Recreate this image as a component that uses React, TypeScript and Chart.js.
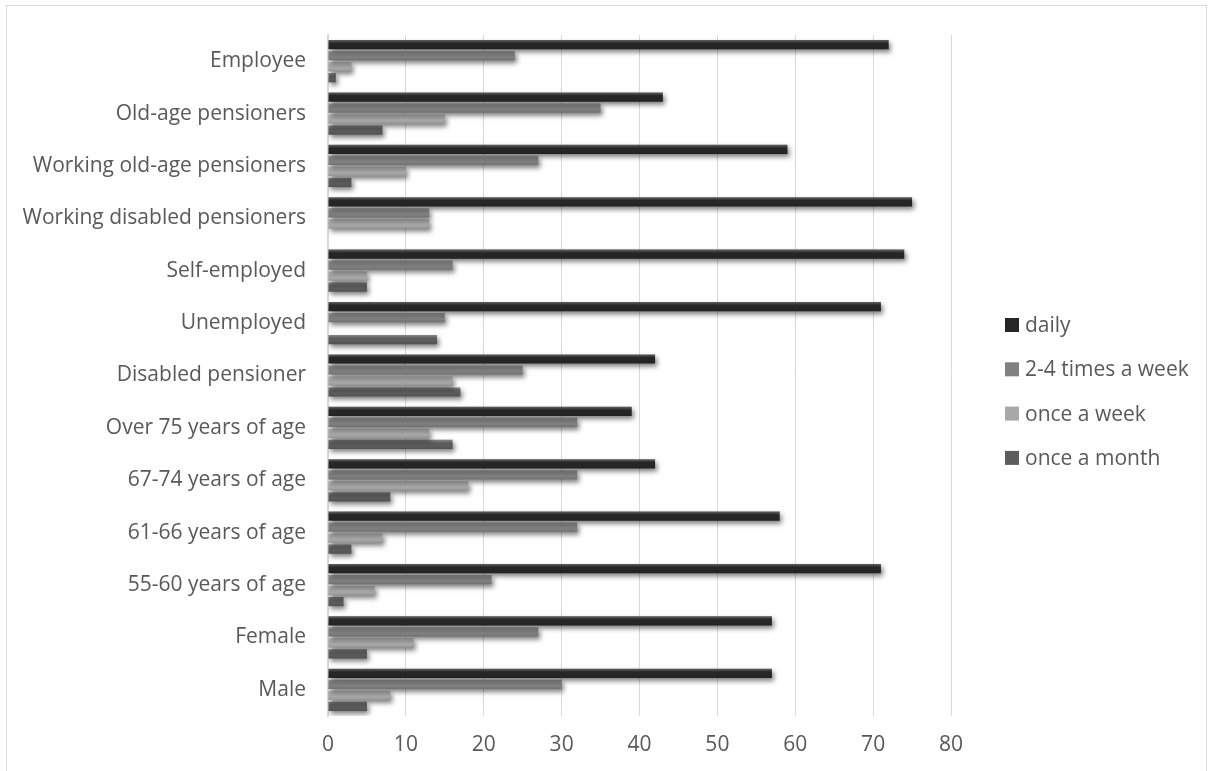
import React, { useEffect, useRef } from "react";
import { Chart, registerables } from "chart.js";

Chart.register(...registerables);

const categories = [
  "Employee",
  "Old-age pensioners",
  "Working old-age pensioners",
  "Working disabled pensioners",
  "Self-employed",
  "Unemployed",
  "Disabled pensioner",
  "Over 75 years of age",
  "67-74 years of age",
  "61-66 years of age",
  "55-60 years of age",
  "Female",
  "Male",
];

const seriesNames = ["daily", "2-4 times a week", "once a week", "once a month"];

const daily = [72, 43, 59, 75, 74, 71, 42, 39, 42, 58, 71, 57, 57];
const twoToFourWeek = [24, 35, 27, 13, 16, 15, 25, 32, 32, 32, 21, 27, 30];
const onceWeek = [3, 15, 10, 13, 5, 0, 16, 13, 18, 7, 6, 11, 8];
const onceMonth = [1, 7, 3, 0, 5, 14, 17, 16, 8, 3, 2, 5, 5];

const seriesValues = [daily, twoToFourWeek, onceWeek, onceMonth];
const seriesColors = ["#262626", "#808080", "#a8a8a8", "#5c5c5c"];

const xMin = 0;
const xMax = 80;
const xStep = 10;

const FONT = "'Open Sans', 'Noto Sans', sans-serif";
const TEXT = "#595959";

export default function App() {
  const ref = useRef<HTMLCanvasElement>(null);

  useEffect(() => {
    if (!ref.current) return;

    const shadowPlugin = {
      id: "barShadow",
      beforeDatasetDraw(chart: any) {
        const c = chart.ctx;
        c.save();
        c.shadowColor = "rgba(0,0,0,0.5)";
        c.shadowBlur = 5;
        c.shadowOffsetX = 2;
        c.shadowOffsetY = 3;
      },
      afterDatasetDraw(chart: any, args: any) {
        const c = chart.ctx;
        c.restore();
        const meta = args.meta;
        c.save();
        meta.data.forEach((el: any) => {
          const p = el.getProps(["x", "y", "base", "height"], true);
          const left = Math.min(p.x, p.base);
          const w = Math.abs(p.x - p.base);
          if (w <= 0) return;
          const top = p.y - p.height / 2;
          const g = c.createLinearGradient(0, top, 0, top + p.height);
          g.addColorStop(0, "rgba(255,255,255,0.28)");
          g.addColorStop(0.35, "rgba(255,255,255,0)");
          g.addColorStop(0.7, "rgba(0,0,0,0)");
          g.addColorStop(1, "rgba(0,0,0,0.12)");
          c.fillStyle = g;
          c.fillRect(left, top, w, p.height);
        });
        c.restore();
      },
    };

    const legendPlugin = {
      id: "sideLegend",
      afterDraw(chart: any) {
        const c = chart.ctx;
        const boxX = 1005;
        const textX = 1025;
        const firstY = 325;
        const gap = 44.3;
        c.save();
        c.font = `21px ${FONT}`;
        c.textBaseline = "middle";
        c.textAlign = "left";
        chart.data.datasets.forEach((ds: any, i: number) => {
          const cy = firstY + i * gap;
          const g = c.createLinearGradient(0, cy - 7, 0, cy + 7);
          g.addColorStop(0, ds.backgroundColor);
          g.addColorStop(1, ds.backgroundColor);
          c.fillStyle = g;
          c.fillRect(boxX, cy - 7, 14, 14);
          c.fillStyle = TEXT;
          c.fillText(ds.label, textX, cy + 1);
        });
        c.restore();
      },
    };

    const chart = new Chart(ref.current, {
      type: "bar",
      data: {
        labels: categories,
        datasets: seriesNames.map((name, i) => ({
          label: name,
          data: seriesValues[i],
          backgroundColor: seriesColors[i],
          borderWidth: 0,
          categoryPercentage: 0.84,
          barPercentage: 0.84,
        })),
      },
      options: {
        indexAxis: "y",
        responsive: false,
        animation: false,
        layout: { padding: { left: 0, top: 35, right: 262, bottom: 15 } },
        plugins: {
          legend: { display: false },
          tooltip: { enabled: false },
        },
        scales: {
          x: {
            min: xMin,
            max: xMax,
            ticks: {
              stepSize: xStep,
              color: TEXT,
              font: { family: FONT, size: 21 },
              padding: 16,
            },
            grid: { color: "#d9d9d9", lineWidth: 1, drawTicks: false },
            border: { display: false },
            afterFit: (s: any) => {
              s.height = 40;
            },
          },
          y: {
            ticks: {
              color: TEXT,
              font: { family: FONT, size: 21 },
              padding: 22,
            },
            grid: { display: false, drawTicks: false },
            border: { display: true, color: "#d9d9d9", width: 2 },
            afterFit: (s: any) => {
              s.width = 328;
            },
          },
        },
      },
      plugins: [shadowPlugin, legendPlugin],
    });

    return () => chart.destroy();
  }, []);

  return (
    <div
      style={{
        position: "fixed",
        left: 0,
        top: 0,
        width: 1213,
        height: 771,
        background: "#ffffff",
        overflow: "hidden",
      }}
    >
      <div
        style={{
          position: "absolute",
          left: 6,
          top: 5,
          width: 1201,
          height: 820,
          border: "1px solid #d9d9d9",
          boxSizing: "border-box",
        }}
      />
      <canvas
        ref={ref}
        width={1213}
        height={771}
        style={{ position: "absolute", left: 0, top: 0, width: 1213, height: 771 }}
      />
    </div>
  );
}
